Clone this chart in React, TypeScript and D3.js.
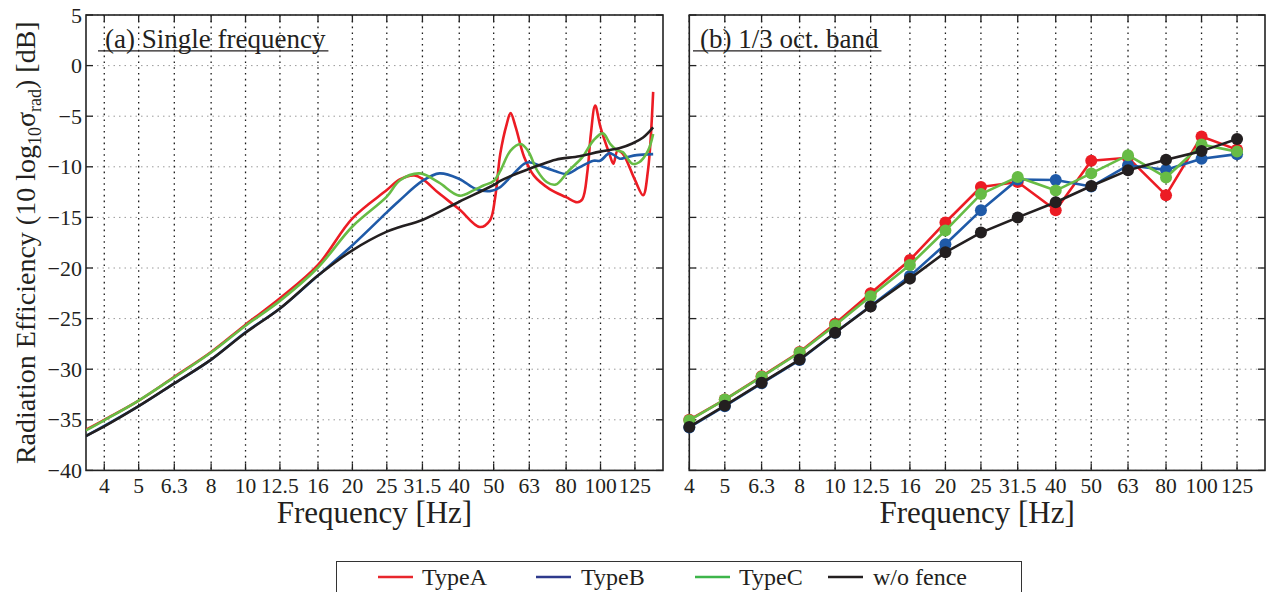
import React from "react";
import * as d3 from "d3";

// 1/3-octave band centre frequencies and their axis labels
const bandFreqs = [4, 5, 6.3, 8, 10, 12.5, 16, 20, 25, 31.5, 40, 50, 63, 80, 100, 125];
const freqTickLabels = ["4", "5", "6.3", "8", "10", "12.5", "16", "20", "25", "31.5", "40", "50", "63", "80", "100", "125"];
const dbTicks = [5, 0, -5, -10, -15, -20, -25, -30, -35, -40];

// (b) band-averaged radiation efficiency [dB]
const bandTypeA = [-35.0, -33.0, -30.7, -28.3, -25.5, -22.5, -19.2, -15.5, -12.0, -11.5, -14.3, -9.4, -9.1, -12.8, -7.0, -8.3];
const bandTypeB = [-35.75, -33.65, -31.4, -29.1, -26.4, -23.75, -20.8, -17.65, -14.3, -11.25, -11.3, -11.95, -9.85, -10.3, -9.2, -8.75];
const bandTypeC = [-35.05, -33.0, -30.75, -28.35, -25.65, -22.8, -19.7, -16.3, -12.7, -11.0, -12.35, -10.65, -8.85, -11.05, -7.8, -8.5];
const bandNoFence = [-35.7, -33.6, -31.35, -29.05, -26.4, -23.8, -21.05, -18.45, -16.5, -15.0, -13.5, -11.9, -10.35, -9.3, -8.45, -7.25];

// (a) single-frequency curves: frequency [Hz] and level [dB]
const singleTypeAFreq = [3.55, 4, 5, 6.3, 8, 10, 12.5, 16, 20, 25, 27.2, 29.9, 31.5, 35, 40, 45.7, 48.8, 50.5, 52.2, 54.4, 55.8, 57.7, 60.9, 65, 71.9, 80, 86, 88.9, 91.9, 93.9, 96.6, 100, 105.9, 108.7, 111.7, 115.5, 125, 131.8, 136.1, 140.7];
const singleTypeA = [-36.0, -35.0, -33.1, -30.75, -28.3, -25.6, -23.0, -19.7, -15.1, -12.3, -11.25, -10.85, -11.2, -12.6, -14.2, -15.95, -15.3, -13.0, -8.7, -5.8, -4.7, -6.1, -9.0, -10.9, -12.2, -13.0, -13.5, -13.2, -10.4, -6.8, -3.95, -6.1, -8.7, -9.7, -8.4, -8.7, -11.3, -12.8, -10.3, -2.6];

const singleTypeBFreq = [3.55, 4, 5, 6.3, 8, 10, 12.5, 16, 20, 25, 27.2, 31.5, 35.2, 40, 44.6, 48.8, 52.2, 55.8, 60.9, 63, 67.7, 74.8, 80.5, 87.2, 95.5, 99.7, 105.9, 108.6, 113.4, 118.4, 126.5, 140.7];
const singleTypeB = [-36.6, -35.6, -33.65, -31.4, -29.05, -26.35, -24.0, -20.75, -17.75, -14.5, -13.3, -11.4, -10.65, -11.2, -12.2, -12.4, -12.0, -11.0, -9.7, -9.55, -9.9, -10.45, -10.7, -10.05, -9.4, -9.4, -8.65, -8.8, -9.2, -9.05, -8.85, -8.75];

const singleTypeCFreq = [3.55, 4, 5, 6.3, 8, 10, 12.5, 16, 20, 25, 27.2, 31, 35, 40, 44, 46.8, 50, 52.2, 55.8, 59.6, 62.4, 66.4, 70.5, 74.8, 81.3, 88.9, 95.5, 101.5, 106.6, 111.7, 115.5, 122.9, 128.5, 136.1, 140.7];
const singleTypeC = [-36.05, -35.05, -33.1, -30.8, -28.35, -25.7, -23.25, -19.95, -15.9, -12.95, -11.35, -10.65, -11.55, -12.85, -12.3, -11.85, -11.4, -10.4, -8.4, -7.75, -8.4, -10.4, -11.5, -11.75, -10.4, -9.05, -7.4, -6.7, -7.75, -8.4, -8.55, -9.7, -9.55, -8.4, -6.75];

const singleNoFenceFreq = [3.55, 4, 5, 6.3, 8, 10, 12.5, 16, 20, 25, 27.2, 31.5, 40, 50, 52.2, 56, 63, 67.7, 74.8, 87.2, 99.7, 113.4, 122.9, 131.8, 140.7];
const singleNoFence = [-36.6, -35.65, -33.65, -31.4, -29.05, -26.4, -24.0, -20.75, -18.25, -16.4, -15.95, -15.25, -13.45, -11.8, -11.4, -10.9, -10.2, -9.8, -9.3, -8.95, -8.5, -8.15, -7.7, -7.1, -6.1];

const seriesNames = ["TypeA", "TypeB", "TypeC", "w/o fence"];
const seriesColors = ["#ec1c24", "#1f5aa8", "#67bc45", "#231f20"];
const legendColors = ["#e8262c", "#2e3a8c", "#3db54a", "#231f20"];

const FONT = "'Liberation Serif', 'Times New Roman', serif";

const W = 1266;
const H = 592;
const yTop = 15;
const yBottom = 470.4;

type PanelSpec = {
  x0: number;
  x1: number;
  fMin: number;
  fMax: number;
  title: string;
  titleX: number;
  showYLabels: boolean;
};

const leftPanel: PanelSpec = { x0: 86, x1: 663, fMin: 3.553, fMax: 149.97, title: "(a) Single frequency", titleX: 105, showYLabels: true };
const rightPanel: PanelSpec = { x0: 689.3, x1: 1265, fMin: 4, fMax: 149.0, title: "(b) 1/3 oct. band", titleX: 700, showYLabels: false };

const yScale = d3.scaleLinear().domain([-40, 5]).range([yBottom, yTop]);

function fmtDb(v: number) {
  return v < 0 ? "\u2212" + Math.abs(v) : String(v);
}

function Frame({ spec, x }: { spec: PanelSpec; x: d3.ScaleLogarithmic<number, number> }) {
  const tick = 7;
  const titleRef = React.useRef<SVGTextElement>(null);
  const [titleW, setTitleW] = React.useState(0);
  React.useLayoutEffect(() => {
    if (titleRef.current) setTitleW(titleRef.current.getComputedTextLength());
  }, []);
  const tx = spec.titleX;
  return (
    <g>
      {/* horizontal grid */}
      {dbTicks.map((v) => (
        <line key={"h" + v} x1={spec.x0} x2={spec.x1} y1={yScale(v)} y2={yScale(v)}
          stroke="#9a9a9a" strokeWidth={1} strokeDasharray="1.5,4" />
      ))}
      {/* vertical grid */}
      {bandFreqs.map((f) => (
        <line key={"v" + f} x1={x(f)} x2={x(f)} y1={yTop} y2={yBottom}
          stroke="#1a1a1a" strokeWidth={1.3} strokeDasharray="1.6,4.2" />
      ))}
      {/* tick marks */}
      {dbTicks.map((v) => (
        <g key={"yt" + v}>
          <line x1={spec.x0} x2={spec.x0 + tick} y1={yScale(v)} y2={yScale(v)} stroke="#222" strokeWidth={1.3} />
          <line x1={spec.x1 - tick} x2={spec.x1} y1={yScale(v)} y2={yScale(v)} stroke="#222" strokeWidth={1.3} />
        </g>
      ))}
      {bandFreqs.map((f) => (
        <g key={"xt" + f}>
          <line x1={x(f)} x2={x(f)} y1={yBottom} y2={yBottom - tick} stroke="#222" strokeWidth={1.3} />
          <line x1={x(f)} x2={x(f)} y1={yTop} y2={yTop + tick} stroke="#222" strokeWidth={1.3} />
        </g>
      ))}
      <rect x={spec.x0} y={yTop} width={spec.x1 - spec.x0} height={yBottom - yTop}
        fill="none" stroke="#222" strokeWidth={1.6} />
      {/* tick labels */}
      {bandFreqs.map((f, i) => (
        <text key={"xl" + f} x={x(f)} y={492.5} textAnchor="middle" fontSize={21.5} fontFamily={FONT} fill="#231f20">
          {freqTickLabels[i]}
        </text>
      ))}
      {spec.showYLabels && dbTicks.map((v) => (
        <text key={"yl" + v} x={spec.x0 - 4} y={yScale(v) + 7.5} textAnchor="end" fontSize={22} fontFamily={FONT} fill="#231f20">
          {fmtDb(v)}
        </text>
      ))}
      <text x={(spec.x0 + spec.x1) / 2} y={523} textAnchor="middle" fontSize={31} fontFamily={FONT} fill="#231f20">
        Frequency [Hz]
      </text>
      {/* panel title */}
      <text ref={titleRef} x={tx} y={48} fontSize={27} fontFamily={FONT} fill="#231f20">{spec.title}</text>
      {titleW > 0 && (
        <line x1={tx - 7} x2={tx + titleW + 3} y1={50.8} y2={50.8} stroke="#231f20" strokeWidth={1.3} />
      )}
    </g>
  );
}

export default function App() {
  const xLeft = d3.scaleLog().domain([leftPanel.fMin, leftPanel.fMax]).range([leftPanel.x0, leftPanel.x1]);
  const xRight = d3.scaleLog().domain([rightPanel.fMin, rightPanel.fMax]).range([rightPanel.x0, rightPanel.x1]);

  const curveLine = d3.line<[number, number]>()
    .x((d) => xLeft(d[0]))
    .y((d) => yScale(d[1]))
    .curve(d3.curveCatmullRom.alpha(0.5));

  const bandLine = d3.line<[number, number]>()
    .x((d) => xRight(d[0]))
    .y((d) => yScale(d[1]));

  const singles: [number[], number[]][] = [
    [singleTypeAFreq, singleTypeA],
    [singleTypeBFreq, singleTypeB],
    [singleTypeCFreq, singleTypeC],
    [singleNoFenceFreq, singleNoFence],
  ];
  const bands = [bandTypeA, bandTypeB, bandTypeC, bandNoFence];

  const legendItems = [
    { lx: 378, tx: 422 },
    { lx: 536, tx: 581 },
    { lx: 695, tx: 739 },
    { lx: 828, tx: 873 },
  ];

  return (
    <svg width={W} height={H} viewBox={`0 0 ${W} ${H}`}
      style={{ position: "absolute", left: 0, top: 0, background: "#fff" }}>
      <rect width={W} height={H} fill="#fff" />
      <Frame spec={leftPanel} x={xLeft} />
      <Frame spec={rightPanel} x={xRight} />

      {/* single-frequency curves */}
      <defs>
        <clipPath id="clipLeft">
          <rect x={leftPanel.x0} y={yTop} width={leftPanel.x1 - leftPanel.x0} height={yBottom - yTop} />
        </clipPath>
      </defs>
      <g clipPath="url(#clipLeft)">
        {singles.map(([fs, vs], i) => (
          <path key={seriesNames[i]}
            d={curveLine(fs.map((f, j) => [f, vs[j]] as [number, number])) || ""}
            fill="none" stroke={seriesColors[i]} strokeWidth={2.6} strokeLinejoin="round" />
        ))}
      </g>

      {/* band values */}
      {bands.map((vs, i) => (
        <g key={seriesNames[i]}>
          <path d={bandLine(bandFreqs.map((f, j) => [f, vs[j]] as [number, number])) || ""}
            fill="none" stroke={seriesColors[i]} strokeWidth={2.6} strokeLinejoin="round" />
          {bandFreqs.map((f, j) => (
            <circle key={f} cx={xRight(f)} cy={yScale(vs[j])} r={6} fill={seriesColors[i]} />
          ))}
        </g>
      ))}

      {/* y-axis title */}
      <text transform={`translate(35,${(yTop + yBottom) / 2}) rotate(-90)`} textAnchor="middle"
        fontSize={28} fontFamily={FONT} fill="#231f20">
        Radiation Efficiency (10 log<tspan dy={6} fontSize={18}>10</tspan>
        <tspan dy={-6}>σ</tspan><tspan dy={6} fontSize={18}>rad</tspan>
        <tspan dy={-6}>) [dB]</tspan>
      </text>

      {/* legend */}
      <rect x={336.5} y={561.5} width={685} height={45} fill="#fff" stroke="#333" strokeWidth={1} />
      {seriesNames.map((name, i) => (
        <g key={name}>
          <line x1={legendItems[i].lx} x2={legendItems[i].lx + 35} y1={577} y2={577}
            stroke={legendColors[i]} strokeWidth={2.6} />
          <text x={legendItems[i].tx} y={585} fontSize={24} fontFamily={FONT} fill="#231f20">{name}</text>
        </g>
      ))}
    </svg>
  );
}
